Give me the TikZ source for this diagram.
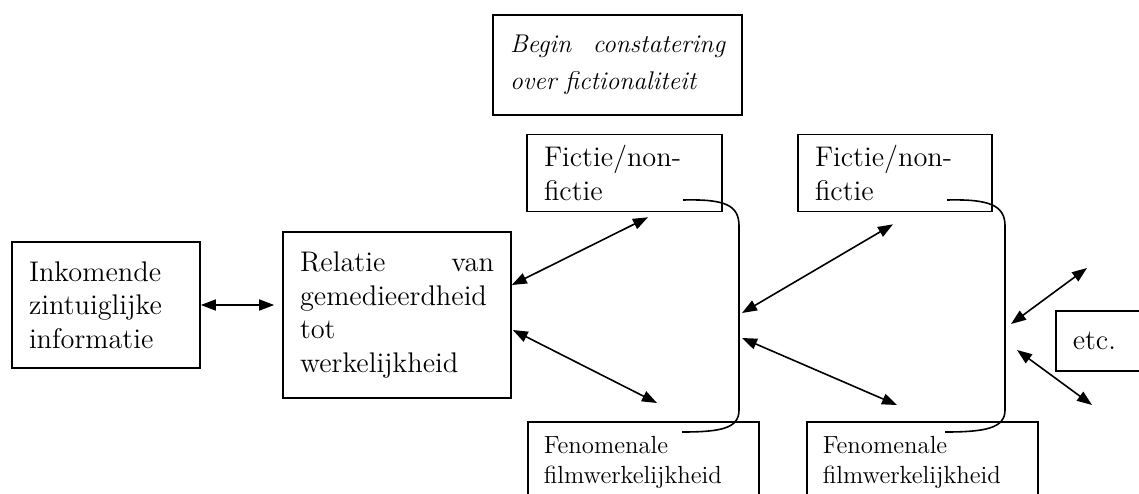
\documentclass[tikz,border=0pt]{standalone}
\usetikzlibrary{arrows.meta,positioning,calc}

\newcommand\boxfont{\fontsize{14.2}{16.8}\selectfont}
\newcommand\smallboxfont{\fontsize{12.4}{15}\selectfont}
\newcommand\beginfont{\fontsize{12.8}{18.5}\selectfont\itshape}

\begin{document}
\begin{tikzpicture}[
  x=0.5pt, y=-0.5pt,
  >={Triangle[length=7.5pt,width=5.5pt]},
  line width=0.8pt,
  box/.style={draw, line width=0.8pt, align=left, inner xsep=8.5pt, font=\boxfont},
  lowbox/.style={box, anchor=north west, inner xsep=8pt, inner ysep=7pt,
                 text width=99.5pt, font=\smallboxfont},
  link/.style={<->, line width=0.8pt},
  brace/.style={line width=0.8pt},
]
\useasboundingbox (0,0) rectangle (1139,493);
\clip (0,0) rectangle (1139,493);

% first column
\node[box, text width=77pt, minimum height=63pt] (inko) at (106,305)
  {Inkomende\\zintuiglijke\\informatie};
\node[box, text width=97pt, minimum height=83pt] (rel) at (397,315)
  {Relatie \hfill van\\gemedieerdheid\\tot\\werkelijkheid};

% second column
\node[box, text width=107.5pt, minimum height=50pt, font=\beginfont] (begin) at (617.5,65)
  {Begin \hfill constatering\\over fictionaliteit};
\node[box, text width=80.5pt, minimum height=38.5pt] (fic1) at (624.5,173)
  {Fictie/non-\\fictie};
\node[lowbox] (fen1) at (527,421)
  {Fenomenale\\filmwerkelijkheid\\[8pt]};

% third column
\node[box, text width=80pt, minimum height=38.5pt] (fic2) at (895,173)
  {Fictie/non-\\fictie};
\node[lowbox] (fen2) at (806,421)
  {Fenomenale\\filmwerkelijkheid\\[8pt]};
\node[box, anchor=west, text width=60pt, minimum height=30pt] (etc) at (1055,341)
  {etc.};

% brackets joining fictie and film reality
\coordinate (b1s) at (683,200);
\coordinate (b1e) at (682,432);
\coordinate (b2s) at (947,200);
\coordinate (b2e) at (945,432);
\draw[brace] (b1s) .. controls (725,199) and (739,205) .. (739,226)
  -- (739,410) .. controls (739,428) and (722,432) .. (b1e);
\draw[brace] (b2s) .. controls (989,199) and (1005,205) .. (1005,226)
  -- (1005,410) .. controls (1005,428) and (986,432) .. (b2e);

% arrows
\coordinate (b1up) at (742,313);
\coordinate (b1dn) at (742,338);
\coordinate (b2up) at (1011,324);
\coordinate (b2dn) at (1017,350);
\coordinate (up) at (1087,268);
\coordinate (down) at (1092,405);
\draw[link, shorten >=4pt] (inko.east) -- (inko.east -| rel.west);
\draw[link] ($(rel.east)+(0,-30)$) -- ($(fic1.south)+(23.5,5)$);
\draw[link] ($(rel.east)+(1,15)$) -- ($(fen1.north west)+(130,-18)$);
\draw[link] (b1up) -- ($(fic2.south)+(-2,12)$);
\draw[link] (b1dn) -- ($(fen2.north west)+(91,-16)$);
\draw[link] (b2up) -- (up);
\draw[link] (b2dn) -- (down);
\end{tikzpicture}
\end{document}
